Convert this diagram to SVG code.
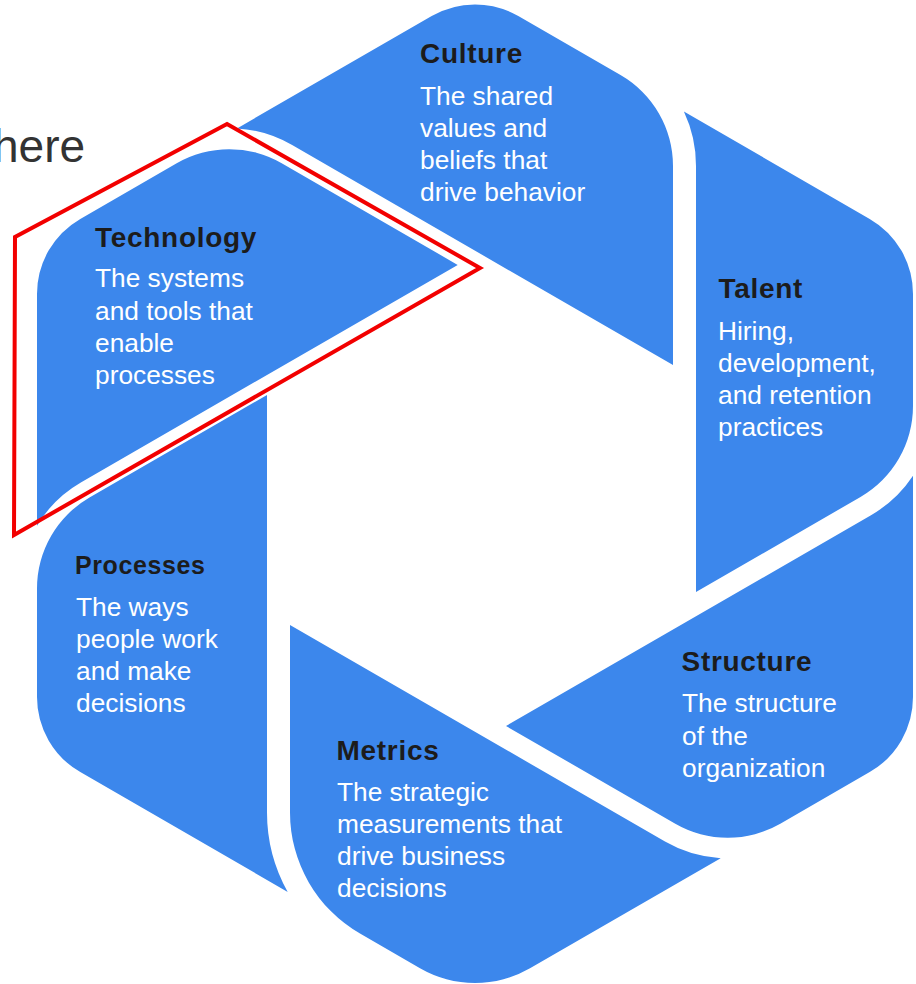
<svg xmlns="http://www.w3.org/2000/svg" width="916" height="984" viewBox="0 0 916 984">
<style>
.seg{fill:#3C87EC;}
.ttl{font-family:"Liberation Sans",Arial,sans-serif;font-weight:bold;font-size:28px;letter-spacing:0.7px;fill:#1c1c1c;}
.ttl.sm{font-size:25px;letter-spacing:0.6px;}
.dsc{font-family:"Liberation Sans",Arial,sans-serif;font-size:26.3px;fill:#ffffff;}
.bg{font-family:"Liberation Sans",Arial,sans-serif;font-size:46px;fill:#333333;}
.hl{fill:none;stroke:#f20000;stroke-width:4;stroke-linejoin:miter;}
</style>
<rect width="916" height="984" fill="#ffffff"/>
<text class="bg" x="-7" y="162">here</text>

<g id="culture">
<path class="seg" d="M237,128.4 L431.7,16 A86.6 86.6 0 0 1 518.3,16 L620.5,75 A105 105 0 0 1 673,165.9 L673,365 L292.15,145.1 A125.9 125.9 0 0 0 237,128.4 Z"/>
<text class="ttl" x="420" y="63">Culture</text>
<text class="dsc"><tspan x="420" y="105">The shared</tspan><tspan x="420" y="137">values and</tspan><tspan x="420" y="169">beliefs that</tspan><tspan x="420" y="201">drive behavior</tspan></text>
</g>

<g id="talent">
<path class="seg" d="M683.9,111.6 L869.7,218.9 A86.6 86.6 0 0 1 913,293.9 L913,406.1 A105 105 0 0 1 860.5,497 L696,592 L696,165.9 A128 128 0 0 0 683.9,111.6 Z"/>
<text class="ttl" x="718.5" y="298">Talent</text>
<text class="dsc"><tspan x="718" y="339.5">Hiring,</tspan><tspan x="718" y="371.5">development,</tspan><tspan x="718" y="403.5">and retention</tspan><tspan x="718" y="435.5">practices</tspan></text>
</g>

<g id="structure">
<path class="seg" d="M913,475.75 L913,697.1 A86.6 86.6 0 0 1 869.7,772.1 L780.3,823.7 A105 105 0 0 1 675.3,823.7 L506,726 L871,515.2 A126 126 0 0 0 913,475.75 Z"/>
<text class="ttl" x="681.5" y="671">Structure</text>
<text class="dsc"><tspan x="682" y="712">The structure</tspan><tspan x="682" y="744.5">of the</tspan><tspan x="682" y="776.5">organization</tspan></text>
</g>

<g id="metrics">
<path class="seg" d="M720.7,858.15 L530,968.25 A110 110 0 0 1 420,968.25 L360,933.6 A140 140 0 0 1 290,812.4 L290,625 L665,841.5 A125.55 125.55 0 0 0 720.7,858.15 Z"/>
<text class="ttl" x="336.5" y="759.5">Metrics</text>
<text class="dsc"><tspan x="337" y="800.5">The strategic</tspan><tspan x="337" y="833">measurements that</tspan><tspan x="337" y="865">drive business</tspan><tspan x="337" y="897">decisions</tspan></text>
</g>

<g id="processes">
<path class="seg" d="M287.7,891.9 L80.3,772.1 A86.6 86.6 0 0 1 37,697.1 L37,588.4 A105 105 0 0 1 89.5,497.5 L267,395 L267,812.4 A163 163 0 0 0 287.7,891.9 Z"/>
<text class="ttl sm" x="75" y="574">Processes</text>
<text class="dsc"><tspan x="76" y="615.5">The ways</tspan><tspan x="76" y="647.5">people work</tspan><tspan x="76" y="679.5">and make</tspan><tspan x="76" y="712">decisions</tspan></text>
</g>

<g id="technology">
<path class="seg" d="M37,525.7 L37,293.9 A86.6 86.6 0 0 1 80.3,218.9 L176.7,163.2 A105 105 0 0 1 281.7,163.2 L457.7,264.9 L80.85,482.5 A122.3 122.3 0 0 0 37,525.7 Z"/>
<text class="ttl" x="95" y="247">Technology</text>
<text class="dsc"><tspan x="95" y="287">The systems</tspan><tspan x="95" y="319.5">and tools that</tspan><tspan x="95" y="352">enable</tspan><tspan x="95" y="384">processes</tspan></text>
</g>

<g id="connectors"></g>

<g id="highlight">
<polygon class="hl" points="227,124 480,268 14,535 15,237"/>
</g>
</svg>
